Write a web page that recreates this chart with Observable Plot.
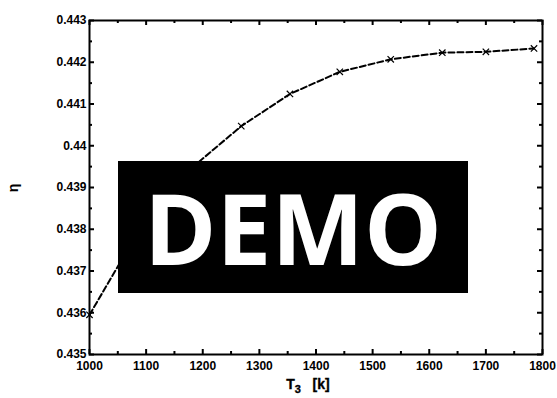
<!DOCTYPE html>
<html><head><meta charset="utf-8">
<script src="https://cdn.jsdelivr.net/npm/d3@7"></script>
<script src="https://cdn.jsdelivr.net/npm/@observablehq/plot@0.6"></script>
<style>
body{margin:0;background:#fff;}
#wrap{position:relative;width:557px;height:398px;}
#demo{position:absolute;left:118px;top:161px;width:350px;height:132px;background:#000;color:#fff;
font-family:"Open Sans",sans-serif;font-weight:700;font-size:98px;line-height:132px;text-align:center;letter-spacing:0px;}
svg{font-family:"Liberation Sans",Arial,sans-serif;color:#000;}
</style></head>
<body><div id="wrap"></div>
<script>
const T3 = [1000, 1089, 1178, 1268, 1354, 1442, 1532, 1623, 1700, 1785];
const eta = [0.43595, 0.43801, 0.43944, 0.44047, 0.44124, 0.44177, 0.44207, 0.44223, 0.44225, 0.44233];
const xMajor = [1000,1100,1200,1300,1400,1500,1600,1700,1800];
const xMinor = [1050,1150,1250,1350,1450,1550,1650,1750];
const yMajor = [0.435,0.436,0.437,0.438,0.439,0.440,0.441,0.442,0.443];
const yMinor = [0.4355,0.4365,0.4375,0.4385,0.4395,0.4405,0.4415,0.4425];
const xLabel = "T";
const xSub = "3";
const xUnit = "[k]";
const yLabel = "η";

const data = T3.map((t,i)=>({t, e: eta[i]}));
const fmtY = d => String(+d.toFixed(3));
const fmtX = d => String(d);

const W = 557, H = 398, ML = 89, MR = 15, MT = 20, MB = 44;
const PW = W - ML - MR, PH = H - MT - MB;
const maj = 5, mnr = 3;
const tk = {stroke: "#000", strokeWidth: 2};

const plot = Plot.plot({
  width: W, height: H,
  marginLeft: ML, marginRight: MR, marginTop: MT, marginBottom: MB,
  x: {domain: [1000, 1800], label: null},
  y: {domain: [0.435, 0.443], label: null},
  style: {fontSize: "12px", color: "#000"},
  marks: [
    Plot.axisX({anchor: "bottom", ticks: xMajor, tickSize: 0, tickPadding: 7, tickFormat: fmtX, label: null,
                fontWeight: "bold", stroke: "#000", strokeWidth: 0.35}),
    Plot.axisY({anchor: "left", ticks: yMajor, tickSize: 0, tickPadding: 3, tickFormat: fmtY, label: null,
                fontWeight: "bold", stroke: "#000", strokeWidth: 0.35}),
    Plot.tickX(xMajor, {x: d => d, insetTop: PH - maj, ...tk}),
    Plot.tickX(xMinor, {x: d => d, insetTop: PH - mnr, ...tk}),
    Plot.tickX(xMajor, {x: d => d, insetBottom: PH - maj, ...tk}),
    Plot.tickX(xMinor, {x: d => d, insetBottom: PH - mnr, ...tk}),
    Plot.tickY(yMajor, {y: d => d, insetRight: PW - maj, ...tk}),
    Plot.tickY(yMinor, {y: d => d, insetRight: PW - mnr, ...tk}),
    Plot.tickY(yMajor, {y: d => d, insetLeft: PW - maj, ...tk}),
    Plot.tickY(yMinor, {y: d => d, insetLeft: PW - mnr, ...tk}),
    Plot.frame({stroke: "#000", strokeWidth: 2}),
    Plot.line(data, {x: "t", y: "e", stroke: "#000", strokeWidth: 2, strokeDasharray: "6,3"}),
    Plot.dot(data, {x: "t", y: "e", symbol: "times", r: 3, stroke: "#000", strokeWidth: 1.2})
  ]
});

const svg = d3.select(plot);
svg.selectAll("text").style("font-weight", "bold");
const xl = svg.append("text").attr("x", 308).attr("y", 389).attr("text-anchor", "middle")
  .attr("font-size", 14).attr("font-weight", "bold").attr("fill", "#000")
  .attr("stroke", "#000").attr("stroke-width", 0.35);
xl.append("tspan").text(xLabel);
xl.append("tspan").attr("font-size", 11).attr("dy", 4).text(xSub);
xl.append("tspan").attr("dy", -4).text("\u00a0\u00a0\u00a0" + xUnit);
svg.append("text").attr("transform", "translate(18,188) rotate(-90)").attr("text-anchor", "middle")
  .attr("font-size", 14).attr("font-weight", "bold").attr("fill", "#000").text(yLabel);

const wrap = document.getElementById("wrap");
wrap.appendChild(plot);
const demo = document.createElement("div");
demo.id = "demo"; demo.textContent = "DEMO";
wrap.appendChild(demo);
</script>
</body></html>
